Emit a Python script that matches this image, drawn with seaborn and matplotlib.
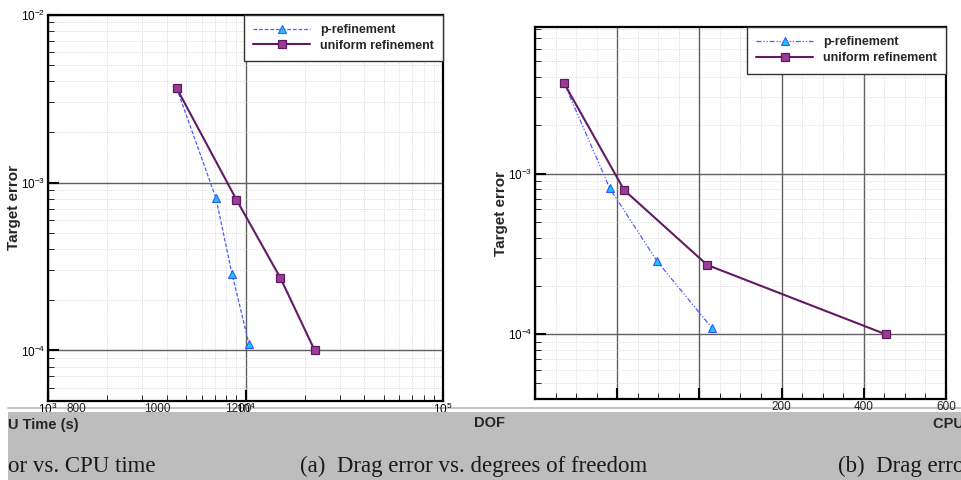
import numpy as np
import pandas as pd
import matplotlib
matplotlib.use("Agg")
import matplotlib.pyplot as plt
import seaborn as sns
from matplotlib.ticker import (LogLocator, MultipleLocator, NullFormatter, FixedLocator,
                               NullLocator, FuncFormatter)
from matplotlib.patches import Rectangle
from matplotlib.lines import Line2D

# ---------------- data ----------------
methods = ["p-refinement", "uniform refinement"]
dof_p = [4480, 7080, 8550, 10420]
dof_u = [4480, 9000, 15030, 22410]
cpu_p = [71, 182, 297, 431]
cpu_u = [71, 217, 419, 853]
err_p = [3.65e-3, 8.1e-4, 2.85e-4, 1.09e-4]
err_u = [3.65e-3, 7.9e-4, 2.7e-4, 1.0e-4]

y_ticks_left = [1e-2, 1e-3, 1e-4]
y_labels_left = [r"$10^{-2}$", r"$10^{-3}$", r"$10^{-4}$"]
y_ticks_right = [1e-3, 1e-4]
y_labels_right = [r"$10^{-3}$", r"$10^{-4}$"]
dof_ticks = [1e3, 1e4, 1e5]
dof_labels = [r"$10^{3}$", r"$10^{4}$", r"$10^{5}$"]
cpu_overlay_left = [800, 1000, 1200]
cpu_ticks_right = [0, 200, 400, 600, 800, 1000]
cpu_overlay_right = [200, 400, 600]

df = pd.DataFrame({
    "method": [methods[0]] * len(dof_p) + [methods[1]] * len(dof_u),
    "dof": dof_p + dof_u,
    "cpu": cpu_p + cpu_u,
    "err": err_p + err_u,
})

# ---------------- style ----------------
sns.set_style("white")
plt.rcParams["font.family"] = ["Liberation Sans", "DejaVu Sans"]
plt.rcParams["mathtext.fontset"] = "custom"
plt.rcParams["mathtext.rm"] = "Liberation Sans"
plt.rcParams["mathtext.it"] = "Liberation Sans:italic"
plt.rcParams["mathtext.bf"] = "Liberation Sans:bold"

W, H = 962, 480
fig = plt.figure(figsize=(W / 100, H / 100), dpi=100)
fig.patch.set_facecolor("white")


def frac_box(x0, y0, x1, y1):
    return [x0 / W, 1 - y1 / H, (x1 - x0) / W, (y1 - y0) / H]


def fx(x):
    return x / W


def fy(y):
    return 1 - y / H


ax1 = fig.add_axes(frac_box(48, 14.6, 443, 401))
ax2 = fig.add_axes(frac_box(535, 27, 946, 399))

palette = {methods[0]: "#4d5cff", methods[1]: "#611a63"}
markers = {methods[0]: "^", methods[1]: "s"}


def draw(ax, xcol, pdash):
    sns.lineplot(data=df, x=xcol, y="err", hue="method", style="method",
                 hue_order=methods, style_order=methods, palette=palette,
                 dashes={methods[0]: pdash, methods[1]: ""}, markers=markers,
                 sort=False, estimator=None, errorbar=None, legend=False, ax=ax)
    lp, lu = ax.lines[0], ax.lines[1]
    lp.set_linewidth(0.9)
    lp.set_markersize(5.2)
    lp.set_markerfacecolor("#19c6ff")
    lp.set_markeredgecolor("#3355ff")
    lp.set_markeredgewidth(0.8)
    lp.set_label(methods[0])
    lu.set_linewidth(1.5)
    lu.set_markersize(5.8)
    lu.set_markerfacecolor("#9a3d96")
    lu.set_markeredgecolor("#5e1a5e")
    lu.set_markeredgewidth(0.9)
    lu.set_label(methods[1])
    ax.set_yscale("log")
    ax.set_axisbelow(True)
    ax.grid(which="major", color="#5f5f5f", lw=1.0, ls="-")
    ax.grid(which="minor", color="#d2d2d2", lw=0.6, ls=(0, (1, 1.5)))
    for s in ax.spines.values():
        s.set_linewidth(1.6)
        s.set_color("black")
    ax.set_xlabel("")
    ax.set_ylabel("")
    leg = ax.legend(handles=[lp, lu], loc="upper right", bbox_to_anchor=(1, 1),
                    borderaxespad=0, frameon=True, fancybox=False,
                    prop={"family": "Liberation Sans", "weight": "bold", "size": 9},
                    handlelength=4.5, handletextpad=0.8, borderpad=0.75,
                    labelspacing=0.3)
    leg.get_frame().set_edgecolor("#333333")
    leg.get_frame().set_linewidth(1.0)
    leg.get_frame().set_alpha(1)


# left panel: DOF (log)
draw(ax1, "dof", (3, 1.5))
ax1.set_xscale("log")
ax1.set_xlim(1e3, 1e5)
ax1.set_ylim(5e-5, 1e-2)
ax1.xaxis.set_major_locator(FixedLocator(dof_ticks))
ax1.set_xticklabels(dof_labels)
ax1.xaxis.set_minor_locator(LogLocator(base=10, subs=np.arange(2, 10)))
ax1.xaxis.set_minor_formatter(NullFormatter())
ax1.yaxis.set_major_locator(FixedLocator(y_ticks_left))
ax1.set_yticklabels(y_labels_left)
ax1.yaxis.set_minor_locator(LogLocator(base=10, subs=np.arange(2, 10)))
ax1.yaxis.set_minor_formatter(NullFormatter())

# right panel: CPU time (linear)
draw(ax2, "cpu", (4, 1.5, 1, 1.5, 1, 1.5))
ax2.set_xlim(0, 1000)
ax2.set_ylim(3.95e-5, 8.2e-3)
ax2.xaxis.set_major_locator(FixedLocator(cpu_ticks_right))
ax2.xaxis.set_minor_locator(MultipleLocator(50))
ax2.yaxis.set_major_locator(FixedLocator(y_ticks_right))
ax2.set_yticklabels(y_labels_right)
ax2.yaxis.set_minor_locator(LogLocator(base=10, subs=np.arange(2, 10)))
ax2.yaxis.set_minor_formatter(NullFormatter())

for ax in (ax1, ax2):
    ax.tick_params(axis="both", which="major", direction="in", length=8, width=1.5,
                   left=True, bottom=True, top=False, right=False,
                   labelsize=8.5, colors="black")
    ax.tick_params(axis="both", which="minor", direction="in", length=4, width=0.7,
                   left=True, bottom=True, top=False, right=False)
    ax.tick_params(axis="y", which="major", pad=2)
    ax.tick_params(axis="x", which="major", pad=0.3, labelsize=8.5)
ax2.tick_params(axis="x", labelbottom=False)

# overlaid CPU-time tick labels seen along the bottom strip
int_fmt = FuncFormatter(lambda v, pos: f"{v:.0f}")
a_c, b_c = 485.9, -726.4
sec1 = ax1.secondary_xaxis(
    "bottom",
    functions=(lambda d: a_c * np.log10(np.clip(d, 1e-12, None)) + b_c,
               lambda c: 10 ** ((c - b_c) / a_c)))
sec2 = ax2.secondary_xaxis("bottom", functions=(lambda x: x - 400, lambda x: x + 400))
for sec, ticks in ((sec1, cpu_overlay_left), (sec2, cpu_overlay_right)):
    sec.xaxis.set_major_locator(FixedLocator(ticks))
    sec.xaxis.set_major_formatter(int_fmt)
    sec.xaxis.set_minor_locator(NullLocator())
    sec.xaxis.set_minor_formatter(NullFormatter())
    sec.tick_params(which="both", length=0, pad=1.5, labelsize=8.5, colors="#222222")
    sec.spines["bottom"].set_visible(False)

# y labels
fig.text(fx(14), fy(207), "Target error", rotation=90, ha="center", va="center",
         fontsize=11, fontweight="bold", family="Liberation Sans")
fig.text(fx(501), fy(214), "Target error", rotation=90, ha="center", va="center",
         fontsize=11, fontweight="bold", family="Liberation Sans")

# grey caption band
fig.add_artist(Line2D([fx(8), 1], [fy(408), fy(408)], transform=fig.transFigure,
                      color="#b8b8b8", lw=1.2, zorder=-1))
fig.add_artist(Rectangle((fx(8), 0), 1, fy(412), transform=fig.transFigure,
                         facecolor="#bdbdbd", edgecolor="none", zorder=5))

fig.text(fx(8), fy(425), "U Time (s)", ha="left", va="center", fontsize=10.5,
         fontweight="bold", zorder=6)
fig.text(fx(490), fy(423), "DOF", ha="center", va="center", fontsize=10.5,
         fontweight="bold", zorder=6)
fig.text(fx(933), fy(424), "CPU Time (s)", ha="left", va="center", fontsize=10.5,
         fontweight="bold", zorder=6)

serif = ["Liberation Serif", "DejaVu Serif"]
fig.text(fx(8), fy(466), "or vs. CPU time", ha="left", va="center", fontsize=16.5,
         family=serif, color="#1a1a1a", zorder=6)
fig.text(fx(300), fy(466), "(a)  Drag error vs. degrees of freedom", ha="left",
         va="center", fontsize=16.5, family=serif, color="#1a1a1a", zorder=6)
fig.text(fx(838), fy(466), "(b)  Drag error vs. CPU time", ha="left", va="center",
         fontsize=16.5, family=serif, color="#1a1a1a", zorder=6)

fig.savefig("out.png", dpi=100)
